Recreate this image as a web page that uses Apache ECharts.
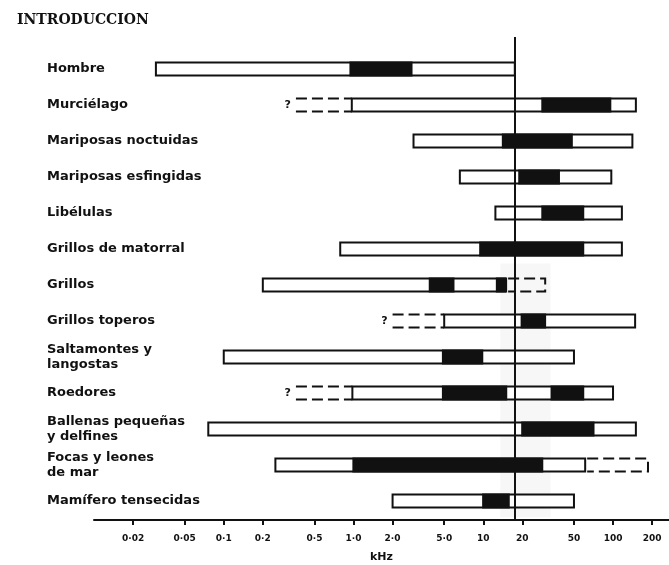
<!DOCTYPE html>
<html>
<head>
<meta charset="utf-8">
<script src="https://cdn.jsdelivr.net/npm/echarts@6/dist/echarts.min.js"></script>
<style>
  html, body { margin: 0; padding: 0; background: #fff; }
  #chart { width: 669px; height: 565px; }
</style>
</head>
<body>
<div id="chart"></div>
<script>
// especies (de arriba abajo)
const especies = [
  'Hombre', 'Murciélago', 'Mariposas noctuidas', 'Mariposas esfingidas', 'Libélulas',
  'Grillos de matorral', 'Grillos', 'Grillos toperos', 'Saltamontes y\nlangostas', 'Roedores',
  'Ballenas pequeñas\ny delfines', 'Focas y leones\nde mar', 'Mamífero tensecidas'
];
// rango total de audición (kHz)
const rangoInicio = [0.03, 0.97, 2.9, 6.6, 12.4, 0.79, 0.2, 5.0, 0.1, 0.98, 0.076, 0.25, 2.0];
const rangoFin    = [17.5, 150, 141, 97, 117, 117, 15, 148, 50, 100, 150, 61, 50];
// zonas de mayor sensibilidad (negro)
const zonaNegra = [
  [[0.93, 2.85]], [[28, 97]], [[13.9, 49]], [[18.6, 39]], [[28, 60]],
  [[9.3, 60]], [[3.8, 6.0], [12.5, 15]], [[19.4, 30.5]], [[4.8, 10]], [[4.8, 15.3], [33, 60]],
  [[19.6, 72]], [[0.98, 29]], [[9.8, 16]]
];
// extensiones dudosas (discontinuas)
const extensionDudosa = [
  [], [[0.36, 0.97]], [], [], [],
  [], [[15, 30]], [[2.0, 5.0]], [], [[0.36, 0.98]],
  [], [[61, 186]], []
];
// eje de frecuencias
const ticksKHz = [0.02, 0.05, 0.1, 0.2, 0.5, 1, 2, 5, 10, 20, 50, 100, 200];
const ticksTexto = ['0·02', '0·05', '0·1', '0·2', '0·5', '1·0', '2·0', '5·0', '10', '20', '50', '100', '200'];
const limiteHumano = 17.5;

const filas = especies.map((_, i) => i);
const datos = especies.map((_, i) => [rangoInicio[i], rangoFin[i], i]);

const fuente = 'DejaVu Sans';
const negro = '#111';

function renderItem(params, api) {
  const i = params.dataIndex;
  const row = api.value(2);
  const p0 = api.coord([api.value(0), row]);
  const p1 = api.coord([api.value(1), row]);
  const h = 13;
  const top = p0[1] - h / 2;
  const bottom = p0[1] + h / 2;
  const children = [];
  children.push({
    type: 'rect',
    shape: { x: p0[0], y: top, width: p1[0] - p0[0], height: h },
    style: { fill: '#fff', stroke: negro, lineWidth: 2 }
  });
  zonaNegra[i].forEach(([a, b]) => {
    const q0 = api.coord([a, row]);
    const q1 = api.coord([b, row]);
    children.push({
      type: 'rect',
      shape: { x: q0[0], y: top - 1, width: q1[0] - q0[0], height: h + 2 },
      style: { fill: negro }
    });
  });
  extensionDudosa[i].forEach(([a, b]) => {
    const q0 = api.coord([a, row]);
    const q1 = api.coord([b, row]);
    const dash = { stroke: negro, lineWidth: 2, lineDash: [11, 5], fill: null };
    if (b <= api.value(0) + 1e-9) {
      // hacia la izquierda, con interrogación
      children.push({ type: 'line', shape: { x1: q0[0], y1: top, x2: q1[0], y2: top }, style: dash });
      children.push({ type: 'line', shape: { x1: q0[0], y1: bottom, x2: q1[0], y2: bottom }, style: dash });
      children.push({
        type: 'text',
        style: {
          text: '?', x: q0[0] - 5, y: p0[1], align: 'right', verticalAlign: 'middle',
          font: 'bold 11px ' + fuente, fill: negro
        }
      });
    } else {
      children.push({
        type: 'polyline',
        shape: { points: [[q0[0] + 2, top], [q1[0], top], [q1[0], bottom], [q0[0] + 2, bottom]] },
        style: dash
      });
    }
  });
  return { type: 'group', children };
}

const chart = echarts.init(document.getElementById('chart'));
chart.setOption({
  backgroundColor: '#fff',
  animation: false,
  title: {
    text: 'INTRODUCCION',
    left: 12, top: 8,
    textStyle: { fontFamily: 'DejaVu Serif', fontWeight: 'bold', fontSize: 14, color: negro }
  },
  grid: { left: 94, right: 0, top: 37, bottom: 45, outerBoundsMode: 'none', containLabel: false },
  xAxis: {
    type: 'log',
    logBase: 10,
    min: 0.01,
    max: 270,
    name: 'kHz',
    nameLocation: 'middle',
    nameGap: 32,
    nameTextStyle: { fontFamily: fuente, fontWeight: 'bold', fontSize: 11, color: negro },
    axisLine: { show: true, onZero: false, lineStyle: { color: negro, width: 2 } },
    axisTick: { show: true, length: 5, lineStyle: { color: negro, width: 2 }, customValues: ticksKHz },
    axisLabel: {
      customValues: ticksKHz,
      margin: 14,
      fontFamily: fuente, fontWeight: 'bold', fontSize: 9, color: negro,
      formatter: v => {
        const k = ticksKHz.findIndex(t => Math.abs(Math.log10(t) - Math.log10(v)) < 1e-6);
        return k >= 0 ? ticksTexto[k] : '';
      }
    },
    splitLine: { show: false },
    minorTick: { show: false }
  },
  yAxis: {
    type: 'value',
    inverse: true,
    min: -0.889,
    max: 12.528,
    axisLine: { show: false },
    axisTick: { show: false },
    splitLine: { show: false },
    axisLabel: {
      customValues: filas,
      align: 'left',
      margin: 47,
      fontFamily: fuente, fontWeight: 'bold', fontSize: 13, color: negro, lineHeight: 15,
      formatter: v => especies[Math.round(v)] || ''
    }
  },
  series: [{
    type: 'custom',
    renderItem,
    encode: { x: [0, 1], y: 2 },
    data: datos,
    z: 3,
    markLine: {
      silent: true,
      symbol: 'none',
      label: { show: false },
      lineStyle: { color: negro, width: 2, type: 'solid' },
      data: [{ xAxis: limiteHumano }]
    },
    markArea: {
      silent: true,
      itemStyle: { color: 'rgba(0,0,0,0.03)' },
      data: [[{ xAxis: 13.5, yAxis: 5.4 }, { xAxis: 33, yAxis: 12.45 }]]
    }
  }]
});
</script>
</body>
</html>
